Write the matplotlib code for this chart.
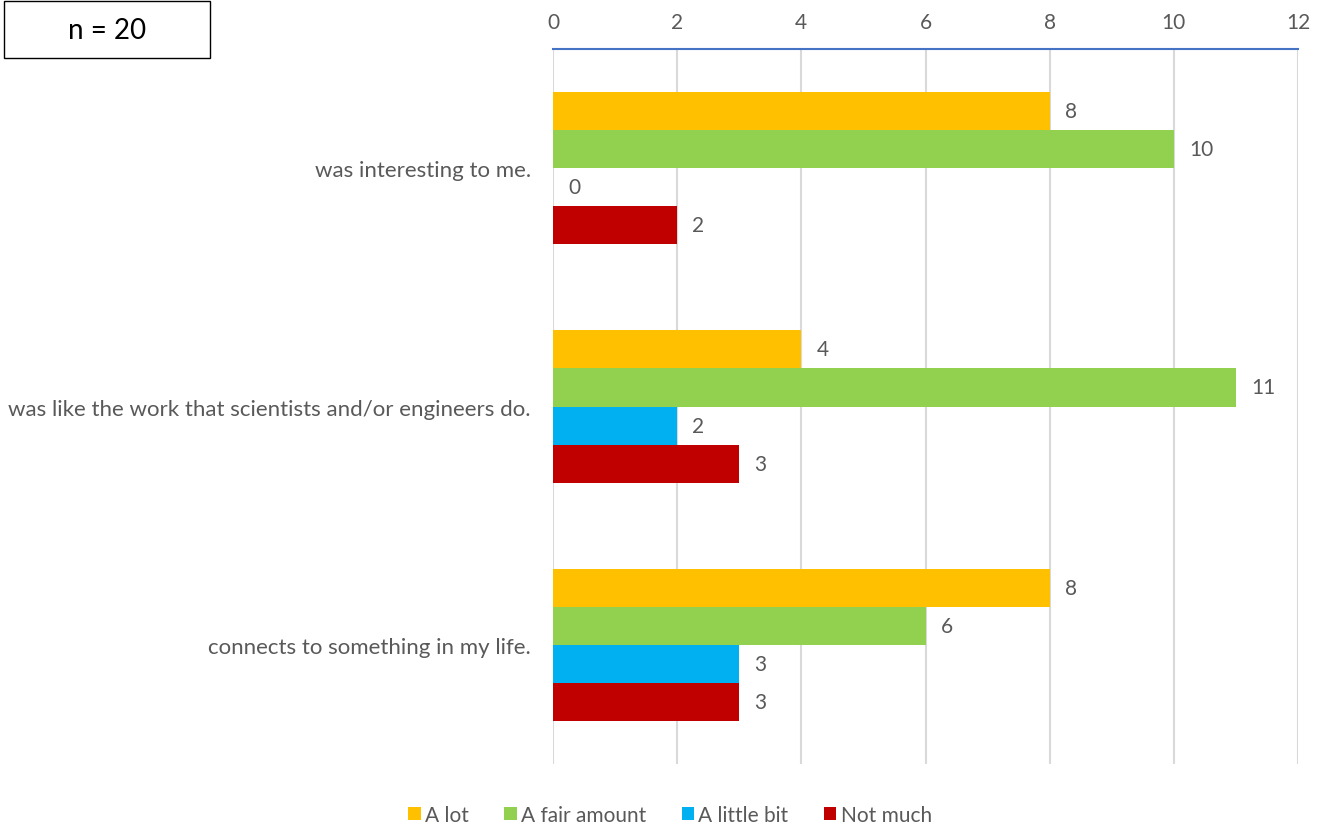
import matplotlib
matplotlib.use("Agg")
import matplotlib.pyplot as plt
from matplotlib.patches import Rectangle
import numpy as np

categories = ["was interesting to me.",
              "was like the work that scientists and/or engineers do.",
              "connects to something in my life."]
series_names = ["A lot", "A fair amount", "A little bit", "Not much"]
a_lot = [8, 4, 8]
a_fair_amount = [10, 11, 6]
a_little_bit = [0, 2, 3]
not_much = [2, 3, 3]
colors = ["#FFC000", "#92D050", "#00B0F0", "#C00000"]
xticks = [0, 2, 4, 6, 8, 10, 12]

plt.rcParams['font.family'] = ['Lato', 'DejaVu Sans']
txt = "#595959"
fs = 15

fig = plt.figure(figsize=(13.21, 8.29), dpi=100)
ax = fig.add_axes([553/1321, 1-765/829, (1298-553)/1321, (765-50)/829])

series = [a_lot, a_fair_amount, a_little_bit, not_much]
h = 0.16
y = np.arange(len(categories))
for i, (vals, c, name) in enumerate(zip(series, colors, series_names)):
    pos = y + (i - 1.5) * h
    ax.barh(pos, vals, height=h, color=c, label=name, zorder=3)
    for p, v in zip(pos, vals):
        ax.annotate(str(v), (v, p), xytext=(11, 0), textcoords="offset points",
                    ha="left", va="center", fontsize=fs, color=txt)

ax.set_ylim(len(categories) - 0.5, -0.5)
ax.set_xlim(0, 12)
ax.set_xticks(xticks)
ax.xaxis.tick_top()
ax.tick_params(axis="x", length=0, pad=12, labelsize=fs, labelcolor=txt)
ax.set_yticks(y)
ax.set_yticklabels(categories)
ax.tick_params(axis="y", length=0, pad=16, labelsize=16, labelcolor=txt)
ax.grid(axis="x", color="#D9D9D9", linewidth=1.5, zorder=0)
for s in ["left", "right", "bottom"]:
    ax.spines[s].set_visible(False)
ax.spines["top"].set_color("#4472C4")
ax.spines["top"].set_linewidth(1.5)
ax.spines["top"].set_zorder(4)

leg = fig.legend(loc="center", bbox_to_anchor=(670/1321, 1-816/829), ncol=4,
                 frameon=False, fontsize=fs, handlelength=0.6, handleheight=0.6,
                 handletextpad=0.2, columnspacing=1.7)
for t in leg.get_texts():
    t.set_color(txt)

fig.patches.append(Rectangle((4/1321, 1-59/829), 206/1321, 57/829,
                             transform=fig.transFigure, fill=False,
                             edgecolor="black", linewidth=1.0))
fig.text(107/1321, 1-31/829, "n = 20", ha="center", va="center", fontsize=20, color="black")

fig.savefig("out.png", dpi=100)
